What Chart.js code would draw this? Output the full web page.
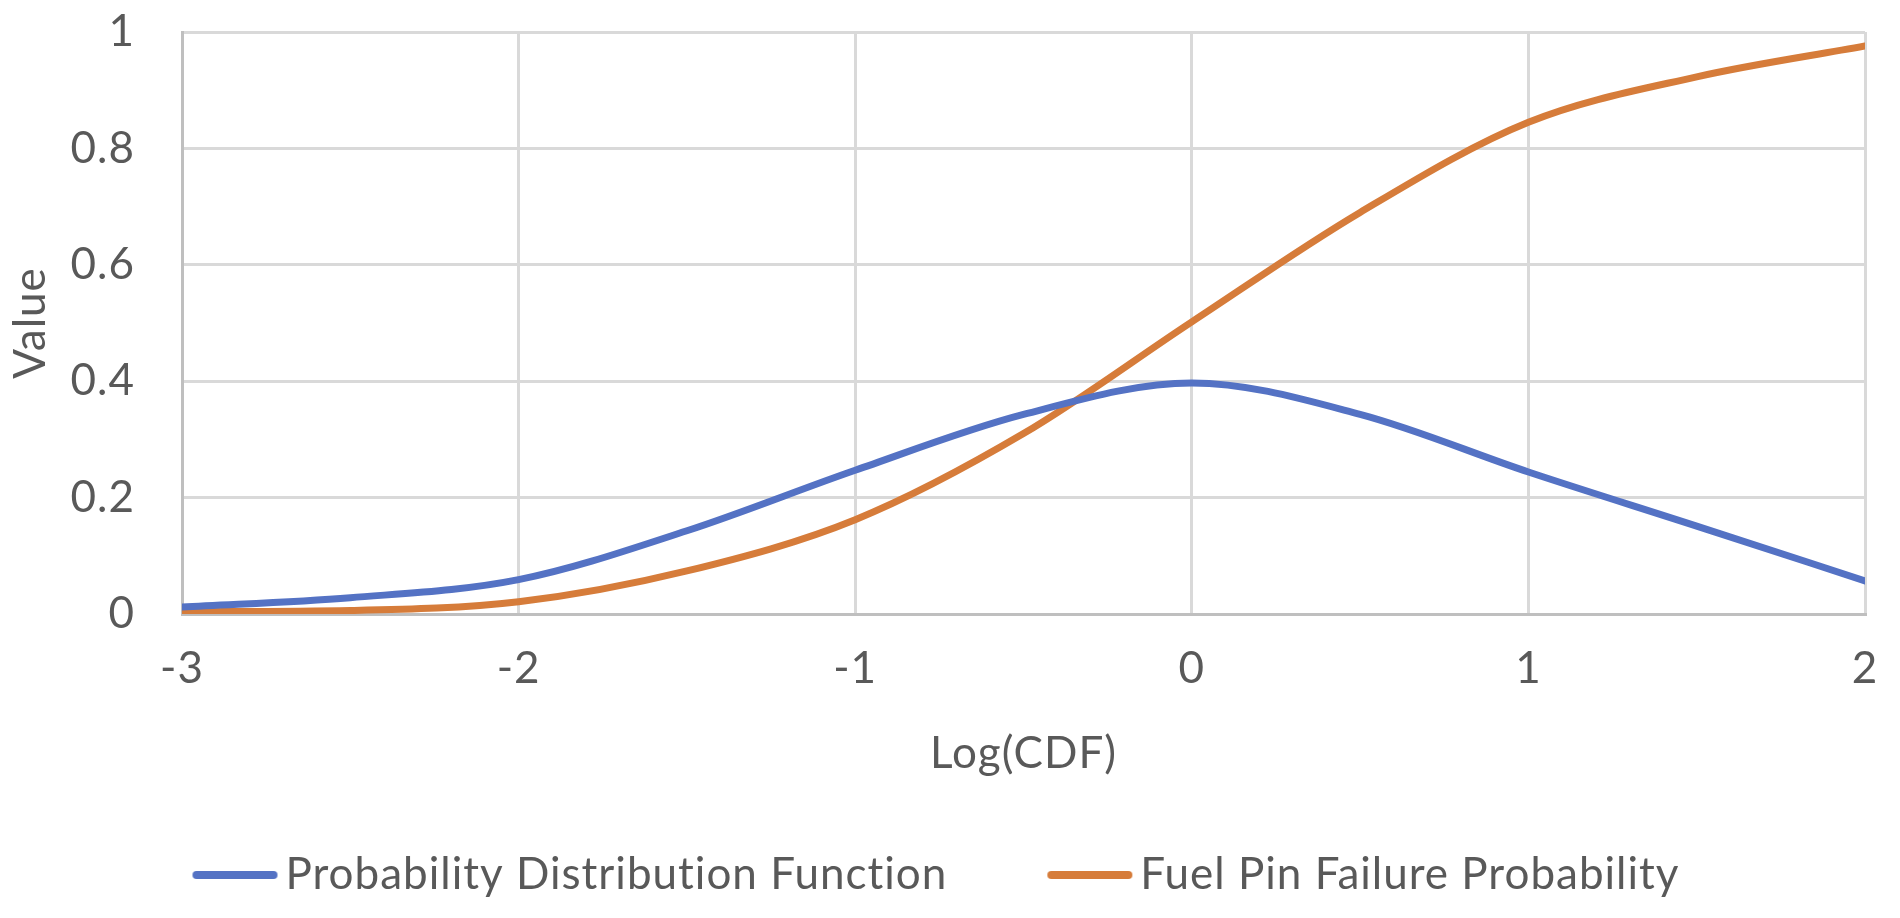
<!DOCTYPE html>
<html>
<head>
<meta charset="utf-8">
<script src="https://cdn.jsdelivr.net/npm/chart.js@4.4.1/dist/chart.umd.min.js"></script>
<style>
    html, body { margin: 0; padding: 0; background: #fff; }
    #wrap { width: 1900px; height: 918px; }
</style>
</head>
<body>
<div id="wrap"><canvas id="chart"></canvas></div>
<script>
// Data
const logCdf = [-3, -2.5, -2, -1.5, -1, -0.5, 0, 0.5, 1, 1.5, 2];
const pdfValues = [0.012, 0.028, 0.059, 0.143, 0.247, 0.343, 0.397, 0.343, 0.244, 0.151, 0.057];
const failureValues = [0.004, 0.006, 0.021, 0.074, 0.162, 0.31, 0.502, 0.69, 0.845, 0.923, 0.976];
const seriesNames = ['Probability Distribution Function', 'Fuel Pin Failure Probability'];
const seriesColors = ['#5472c4', '#d67c3a'];

const textColor = '#595959';
const gridColor = '#d9d9d9';
const axisColor = '#bfbfbf';

Chart.defaults.font.family = "Lato, 'Open Sans', sans-serif";
Chart.defaults.font.size = 44;
Chart.defaults.color = textColor;

// Calibri-like spacing: widen the glyphs a little
const spacing = {
    id: 'spacing',
    beforeUpdate: chart => { chart.ctx.letterSpacing = '1px'; },
    beforeDraw: chart => { chart.ctx.letterSpacing = '1px'; }
};

// legend swatch: rounded line sitting close to its label
function legendLine(color) {
    const c = document.createElement('canvas');
    c.width = 200;
    c.height = 12;
    const g = c.getContext('2d');
    g.strokeStyle = color;
    g.lineWidth = 8;
    g.lineCap = 'round';
    g.beginPath();
    g.moveTo(72, 6);
    g.lineTo(149, 6);
    g.stroke();
    return c;
}

const toPoints = vals => logCdf.map((x, i) => ({ x: x, y: vals[i] }));

function makeSeries(i, vals) {
    return {
        label: seriesNames[i],
        data: toPoints(vals),
        borderColor: seriesColors[i],
        backgroundColor: seriesColors[i],
        borderWidth: 7,
        borderCapStyle: 'round',
        pointRadius: 0,
        pointStyle: legendLine(seriesColors[i]),
        cubicInterpolationMode: 'monotone',
        fill: false
    };
}

const ctx = document.getElementById('chart').getContext('2d');
new Chart(ctx, {
    type: 'line',
    data: {
        datasets: [makeSeries(0, pdfValues), makeSeries(1, failureValues)]
    },
    plugins: [spacing],
    options: {
        responsive: true,
        maintainAspectRatio: false,
        animation: false,
        devicePixelRatio: 1,
        layout: { padding: { top: 32, right: 35, bottom: 11, left: 0 } },
        plugins: {
            tooltip: { enabled: false },
            legend: {
                position: 'bottom',
                labels: {
                    usePointStyle: true,
                    pointStyleWidth: 78,
                    padding: 93,
                    color: textColor,
                    font: { size: 44 }
                }
            }
        },
        scales: {
            x: {
                type: 'linear',
                min: -3,
                max: 2,
                ticks: { stepSize: 1, padding: 28, color: textColor },
                grid: { color: gridColor, lineWidth: 3, drawTicks: false },
                border: { color: axisColor, width: 3 },
                title: { display: true, text: 'Log(CDF)', color: textColor, padding: { top: 0, bottom: -20 } },
                afterFit: s => {
                    s.height = 146;
                    s.paddingLeft = 0;
                    s.paddingRight = 0;
                }
            },
            y: {
                min: 0,
                max: 1,
                ticks: {
                    stepSize: 0.2,
                    padding: 47,
                    color: textColor,
                    callback: v => String(Number(v.toFixed(1)))
                },
                grid: { color: gridColor, lineWidth: 3, drawTicks: false },
                border: { color: axisColor, width: 3 },
                title: { display: true, text: 'Value', color: textColor, padding: { top: 4, bottom: 0 } },
                afterFit: s => {
                    s.width = 182;
                    s.paddingTop = 0;
                    s.paddingBottom = 0;
                }
            }
        }
    }
});
</script>
</body>
</html>
